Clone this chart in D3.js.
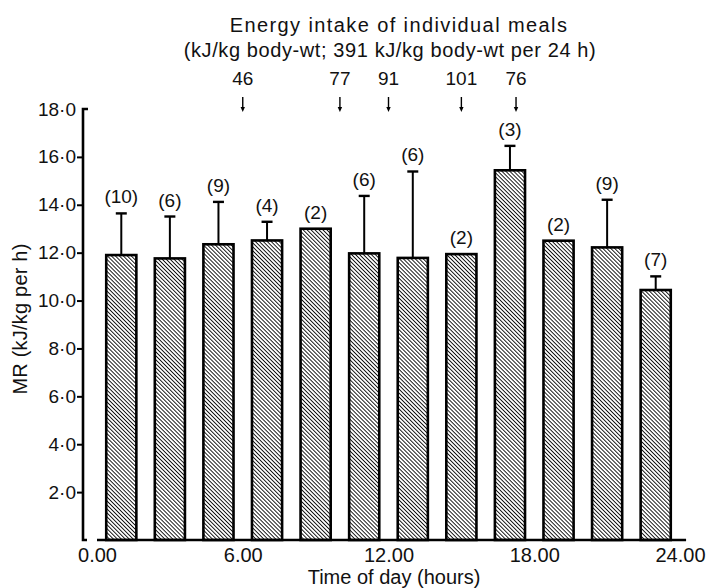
<!DOCTYPE html>
<html>
<head>
<meta charset="utf-8">
<script src="https://cdn.jsdelivr.net/npm/d3@7"></script>
<style>
  html, body { margin: 0; padding: 0; background: #fff; }
  svg { display: block; font-family: "Liberation Sans", Arial, sans-serif; }
  text { fill: #111; }
</style>
</head>
<body>
<svg id="chart" width="707" height="588"></svg>
<script>
// ---- data ----
const hours   = [1, 3, 5, 7, 9, 11, 13, 15, 17, 19, 21, 23];
const mrMean  = [11.9, 11.76, 12.35, 12.51, 13.0, 11.97, 11.78, 11.94, 15.44, 12.5, 12.22, 10.44];
const mrSD    = [1.74, 1.75, 1.77, 0.78, 0, 2.40, 3.61, 0, 1.02, 0, 1.99, 0.57];
const nSubj   = [10, 6, 9, 4, 2, 6, 6, 2, 3, 2, 9, 7];
const mealTimes  = [6, 10, 12, 15, 17.25];
const mealEnergy = [46, 77, 91, 101, 76];
const xTickVals   = [0, 6, 12, 18, 24];
const xTickLabels = ["0.00", "6.00", "12.00", "18.00", "24.00"];
const yTickVals   = [2, 4, 6, 8, 10, 12, 14, 16, 18];
const titleLine1 = "Energy intake of individual meals";
const titleLine2 = "(kJ/kg body-wt; 391 kJ/kg body-wt per 24 h)";
const xTitle = "Time of day (hours)";
const yTitle = "MR (kJ/kg per h)";

// ---- drawing ----
const svg = d3.select("#chart");
const x = d3.scaleLinear().domain([0, 24]).range([97, 680]);
const y = d3.scaleLinear().domain([0, 18]).range([540, 109]);
const barW = x(1.24) - x(0);

const defs = svg.append("defs");
const pat = defs.append("pattern")
  .attr("id", "hatch").attr("patternUnits", "userSpaceOnUse")
  .attr("width", 2.8).attr("height", 2.8)
  .attr("patternTransform", "rotate(-45)");
pat.append("rect").attr("width", 2.8).attr("height", 2.8).attr("fill", "#fff");
pat.append("line").attr("x1", 1.4).attr("x2", 1.4).attr("y1", 0).attr("y2", 2.8)
  .attr("stroke", "#111").attr("stroke-width", 0.95);

// bars
const bars = hours.map((h, i) => ({h, m: mrMean[i], sd: mrSD[i], n: nSubj[i]}));
svg.append("g").selectAll("rect").data(bars).join("rect")
  .attr("x", d => x(d.h) - barW / 2)
  .attr("y", d => y(d.m))
  .attr("width", barW)
  .attr("height", d => y(0) - y(d.m))
  .attr("fill", "url(#hatch)")
  .attr("stroke", "#000").attr("stroke-width", 2.6);

// error bars (upward only)
const eb = svg.append("g").attr("stroke", "#000").attr("stroke-width", 2);
eb.selectAll("line.v").data(bars.filter(d => d.sd > 0)).join("line")
  .attr("class", "v")
  .attr("x1", d => x(d.h)).attr("x2", d => x(d.h))
  .attr("y1", d => y(d.m)).attr("y2", d => y(d.m + d.sd));
eb.selectAll("line.c").data(bars.filter(d => d.sd > 0)).join("line")
  .attr("class", "c")
  .attr("x1", d => x(d.h) - 5.5).attr("x2", d => x(d.h) + 5.5)
  .attr("y1", d => y(d.m + d.sd)).attr("y2", d => y(d.m + d.sd))
  .attr("stroke-width", 2.4);

// n labels
svg.append("g").selectAll("text").data(bars).join("text")
  .attr("x", d => x(d.h))
  .attr("y", d => y(d.m + d.sd) - 10)
  .attr("text-anchor", "middle")
  .attr("font-size", 19)
  .text(d => `(${d.n})`);

// y axis
const yAxis = d3.axisLeft(y)
  .tickValues(yTickVals)
  .tickSize(6).tickPadding(1)
  .tickFormat(d => d.toFixed(1).replace(".", "\u00B7"));
const gy = svg.append("g").attr("transform", `translate(83,0)`).call(yAxis);
gy.select(".domain").remove();
gy.selectAll(".tick line").attr("stroke", "#000").attr("stroke-width", 2)
  .filter(d => d === 18).remove();
gy.selectAll(".tick text").attr("font-size", 19).attr("fill", "#111")
  .attr("font-family", "Liberation Sans, Arial, sans-serif");
svg.append("path")
  .attr("d", `M${83 + 5},${y(18)} H83 V${y(0)} H${83 + 4}`)
  .attr("fill", "none").attr("stroke", "#000").attr("stroke-width", 2.6);

// x axis
const xAxis = d3.axisBottom(x)
  .tickValues(xTickVals).tickSize(0).tickPadding(8)
  .tickFormat((d, i) => xTickLabels[i]);
const gx = svg.append("g").attr("transform", `translate(0,${y(0)})`).call(xAxis);
gx.select(".domain").remove();
gx.selectAll(".tick text").attr("font-size", 20).attr("fill", "#111")
  .attr("font-family", "Liberation Sans, Arial, sans-serif");
svg.append("line")
  .attr("x1", x(0)).attr("x2", x(24.25))
  .attr("y1", y(0)).attr("y2", y(0))
  .attr("stroke", "#000").attr("stroke-width", 2.4);

// axis titles
svg.append("text").attr("x", 394).attr("y", 584)
  .attr("text-anchor", "middle").attr("font-size", 20).text(xTitle);
svg.append("text")
  .attr("transform", `translate(27,319) rotate(-90)`)
  .attr("text-anchor", "middle").attr("font-size", 20).attr("letter-spacing", 0.2)
  .text(yTitle);

// top annotation
svg.append("text").attr("x", 399).attr("y", 32)
  .attr("text-anchor", "middle").attr("font-size", 20).attr("letter-spacing", 1.4)
  .text(titleLine1);
svg.append("text").attr("x", 390).attr("y", 57)
  .attr("text-anchor", "middle").attr("font-size", 20).attr("letter-spacing", 0.6)
  .text(titleLine2);

const meals = mealTimes.map((t, i) => ({t, e: mealEnergy[i]}));
svg.append("g").selectAll("text").data(meals).join("text")
  .attr("x", d => x(d.t))
  .attr("y", 85)
  .attr("text-anchor", "middle").attr("font-size", 19)
  .text(d => d.e);
const arr = svg.append("g");
arr.selectAll("line").data(meals).join("line")
  .attr("x1", d => x(d.t)).attr("x2", d => x(d.t))
  .attr("y1", 97).attr("y2", 108)
  .attr("stroke", "#000").attr("stroke-width", 1.4);
arr.selectAll("path").data(meals).join("path")
  .attr("d", d => `M${x(d.t) - 2.2},107 L${x(d.t) + 2.2},107 L${x(d.t)},112 Z`)
  .attr("fill", "#000");
</script>
</body>
</html>
